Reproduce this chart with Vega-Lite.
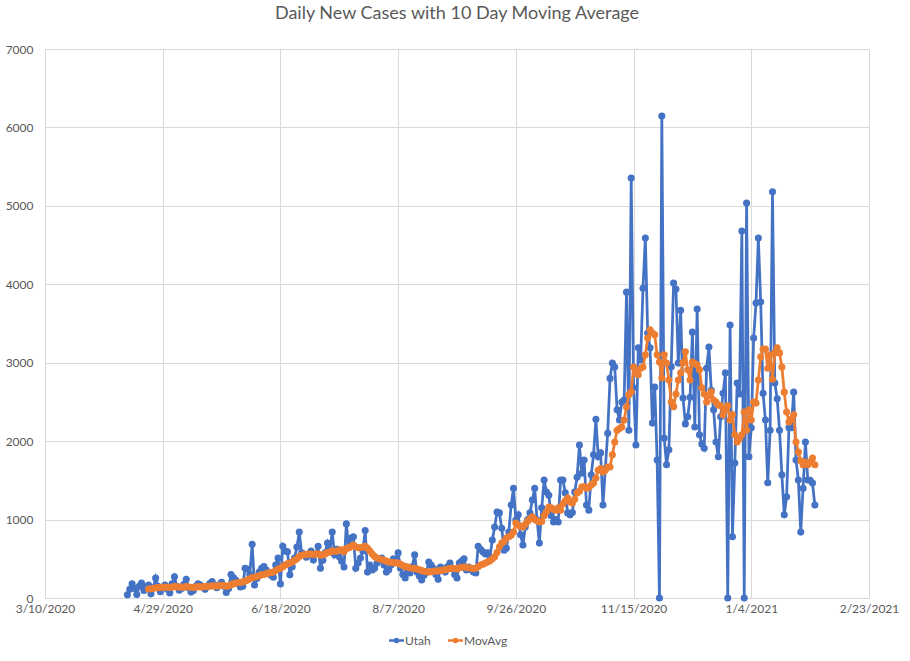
{
"$schema": "https://vega.github.io/schema/vega-lite/v6.json",
"width": 824, "height": 549,
"autosize": {"type": "none"},
"padding": {"left": 45, "top": 49, "right": 41, "bottom": 63},
"background": "white",
"title": {"text": "Daily New Cases with 10 Day Moving Average", "font": "Lato", "fontSize": 18, "fontWeight": "normal", "color": "#595959", "offset": 20, "anchor": "middle"},
"config": {"view": {"stroke": null}},
"data": {"values": [
{"date":"2020-04-14","Utah":40,"MovAvg":null},
{"date":"2020-04-15","Utah":110,"MovAvg":null},
{"date":"2020-04-16","Utah":180,"MovAvg":null},
{"date":"2020-04-17","Utah":120,"MovAvg":null},
{"date":"2020-04-18","Utah":45,"MovAvg":null},
{"date":"2020-04-19","Utah":150,"MovAvg":null},
{"date":"2020-04-20","Utah":190,"MovAvg":null},
{"date":"2020-04-21","Utah":95,"MovAvg":null},
{"date":"2020-04-22","Utah":140,"MovAvg":null},
{"date":"2020-04-23","Utah":165,"MovAvg":115},
{"date":"2020-04-24","Utah":55,"MovAvg":118},
{"date":"2020-04-25","Utah":130,"MovAvg":122},
{"date":"2020-04-26","Utah":255,"MovAvg":130},
{"date":"2020-04-27","Utah":150,"MovAvg":135},
{"date":"2020-04-28","Utah":80,"MovAvg":132},
{"date":"2020-04-29","Utah":140,"MovAvg":138},
{"date":"2020-04-30","Utah":165,"MovAvg":140},
{"date":"2020-05-01","Utah":110,"MovAvg":138},
{"date":"2020-05-02","Utah":65,"MovAvg":135},
{"date":"2020-05-03","Utah":180,"MovAvg":140},
{"date":"2020-05-04","Utah":270,"MovAvg":145},
{"date":"2020-05-05","Utah":150,"MovAvg":142},
{"date":"2020-05-06","Utah":100,"MovAvg":140},
{"date":"2020-05-07","Utah":120,"MovAvg":138},
{"date":"2020-05-08","Utah":175,"MovAvg":140},
{"date":"2020-05-09","Utah":240,"MovAvg":145},
{"date":"2020-05-10","Utah":130,"MovAvg":140},
{"date":"2020-05-11","Utah":75,"MovAvg":138},
{"date":"2020-05-12","Utah":95,"MovAvg":135},
{"date":"2020-05-13","Utah":150,"MovAvg":140},
{"date":"2020-05-14","Utah":180,"MovAvg":145},
{"date":"2020-05-15","Utah":165,"MovAvg":140},
{"date":"2020-05-16","Utah":140,"MovAvg":142},
{"date":"2020-05-17","Utah":110,"MovAvg":145},
{"date":"2020-05-18","Utah":150,"MovAvg":148},
{"date":"2020-05-19","Utah":185,"MovAvg":150},
{"date":"2020-05-20","Utah":210,"MovAvg":155},
{"date":"2020-05-21","Utah":160,"MovAvg":152},
{"date":"2020-05-22","Utah":130,"MovAvg":150},
{"date":"2020-05-23","Utah":170,"MovAvg":158},
{"date":"2020-05-24","Utah":200,"MovAvg":162},
{"date":"2020-05-25","Utah":150,"MovAvg":160},
{"date":"2020-05-26","Utah":70,"MovAvg":150},
{"date":"2020-05-27","Utah":120,"MovAvg":155},
{"date":"2020-05-28","Utah":300,"MovAvg":170},
{"date":"2020-05-29","Utah":260,"MovAvg":180},
{"date":"2020-05-30","Utah":230,"MovAvg":190},
{"date":"2020-05-31","Utah":190,"MovAvg":195},
{"date":"2020-06-01","Utah":140,"MovAvg":200},
{"date":"2020-06-02","Utah":150,"MovAvg":205},
{"date":"2020-06-03","Utah":380,"MovAvg":215},
{"date":"2020-06-04","Utah":370,"MovAvg":230},
{"date":"2020-06-05","Utah":300,"MovAvg":245},
{"date":"2020-06-06","Utah":685,"MovAvg":260},
{"date":"2020-06-07","Utah":165,"MovAvg":265},
{"date":"2020-06-08","Utah":250,"MovAvg":275},
{"date":"2020-06-09","Utah":330,"MovAvg":285},
{"date":"2020-06-10","Utah":380,"MovAvg":295},
{"date":"2020-06-11","Utah":400,"MovAvg":300},
{"date":"2020-06-12","Utah":357,"MovAvg":310},
{"date":"2020-06-13","Utah":320,"MovAvg":320},
{"date":"2020-06-14","Utah":290,"MovAvg":325},
{"date":"2020-06-15","Utah":265,"MovAvg":330},
{"date":"2020-06-16","Utah":420,"MovAvg":350},
{"date":"2020-06-17","Utah":510,"MovAvg":370},
{"date":"2020-06-18","Utah":180,"MovAvg":380},
{"date":"2020-06-19","Utah":660,"MovAvg":400},
{"date":"2020-06-20","Utah":600,"MovAvg":420},
{"date":"2020-06-21","Utah":590,"MovAvg":435},
{"date":"2020-06-22","Utah":295,"MovAvg":445},
{"date":"2020-06-23","Utah":400,"MovAvg":460},
{"date":"2020-06-24","Utah":510,"MovAvg":480},
{"date":"2020-06-25","Utah":650,"MovAvg":500},
{"date":"2020-06-26","Utah":840,"MovAvg":530},
{"date":"2020-06-27","Utah":575,"MovAvg":545},
{"date":"2020-06-28","Utah":560,"MovAvg":550},
{"date":"2020-06-29","Utah":520,"MovAvg":555},
{"date":"2020-06-30","Utah":550,"MovAvg":560},
{"date":"2020-07-01","Utah":600,"MovAvg":560},
{"date":"2020-07-02","Utah":485,"MovAvg":555},
{"date":"2020-07-03","Utah":560,"MovAvg":560},
{"date":"2020-07-04","Utah":660,"MovAvg":565},
{"date":"2020-07-05","Utah":380,"MovAvg":545},
{"date":"2020-07-06","Utah":480,"MovAvg":550},
{"date":"2020-07-07","Utah":575,"MovAvg":560},
{"date":"2020-07-08","Utah":700,"MovAvg":580},
{"date":"2020-07-09","Utah":610,"MovAvg":585},
{"date":"2020-07-10","Utah":840,"MovAvg":600},
{"date":"2020-07-11","Utah":550,"MovAvg":595},
{"date":"2020-07-12","Utah":620,"MovAvg":600},
{"date":"2020-07-13","Utah":525,"MovAvg":610},
{"date":"2020-07-14","Utah":470,"MovAvg":615},
{"date":"2020-07-15","Utah":395,"MovAvg":590},
{"date":"2020-07-16","Utah":945,"MovAvg":630},
{"date":"2020-07-17","Utah":640,"MovAvg":640},
{"date":"2020-07-18","Utah":765,"MovAvg":660},
{"date":"2020-07-19","Utah":780,"MovAvg":675},
{"date":"2020-07-20","Utah":380,"MovAvg":650},
{"date":"2020-07-21","Utah":445,"MovAvg":640},
{"date":"2020-07-22","Utah":510,"MovAvg":645},
{"date":"2020-07-23","Utah":600,"MovAvg":650},
{"date":"2020-07-24","Utah":860,"MovAvg":660},
{"date":"2020-07-25","Utah":330,"MovAvg":635},
{"date":"2020-07-26","Utah":420,"MovAvg":600},
{"date":"2020-07-27","Utah":357,"MovAvg":560},
{"date":"2020-07-28","Utah":380,"MovAvg":530},
{"date":"2020-07-29","Utah":445,"MovAvg":510},
{"date":"2020-07-30","Utah":480,"MovAvg":500},
{"date":"2020-07-31","Utah":510,"MovAvg":490},
{"date":"2020-08-01","Utah":420,"MovAvg":480},
{"date":"2020-08-02","Utah":330,"MovAvg":470},
{"date":"2020-08-03","Utah":360,"MovAvg":460},
{"date":"2020-08-04","Utah":420,"MovAvg":455},
{"date":"2020-08-05","Utah":500,"MovAvg":450},
{"date":"2020-08-06","Utah":450,"MovAvg":448},
{"date":"2020-08-07","Utah":575,"MovAvg":445},
{"date":"2020-08-08","Utah":380,"MovAvg":430},
{"date":"2020-08-09","Utah":300,"MovAvg":415},
{"date":"2020-08-10","Utah":255,"MovAvg":400},
{"date":"2020-08-11","Utah":357,"MovAvg":395},
{"date":"2020-08-12","Utah":320,"MovAvg":385},
{"date":"2020-08-13","Utah":400,"MovAvg":380},
{"date":"2020-08-14","Utah":550,"MovAvg":378},
{"date":"2020-08-15","Utah":330,"MovAvg":370},
{"date":"2020-08-16","Utah":280,"MovAvg":360},
{"date":"2020-08-17","Utah":230,"MovAvg":350},
{"date":"2020-08-18","Utah":290,"MovAvg":340},
{"date":"2020-08-19","Utah":330,"MovAvg":335},
{"date":"2020-08-20","Utah":460,"MovAvg":330},
{"date":"2020-08-21","Utah":420,"MovAvg":335},
{"date":"2020-08-22","Utah":380,"MovAvg":340},
{"date":"2020-08-23","Utah":300,"MovAvg":345},
{"date":"2020-08-24","Utah":240,"MovAvg":345},
{"date":"2020-08-25","Utah":395,"MovAvg":350},
{"date":"2020-08-26","Utah":370,"MovAvg":355},
{"date":"2020-08-27","Utah":330,"MovAvg":360},
{"date":"2020-08-28","Utah":400,"MovAvg":370},
{"date":"2020-08-29","Utah":445,"MovAvg":375},
{"date":"2020-08-30","Utah":380,"MovAvg":380},
{"date":"2020-08-31","Utah":300,"MovAvg":375},
{"date":"2020-09-01","Utah":255,"MovAvg":370},
{"date":"2020-09-02","Utah":445,"MovAvg":385},
{"date":"2020-09-03","Utah":470,"MovAvg":390},
{"date":"2020-09-04","Utah":500,"MovAvg":395},
{"date":"2020-09-05","Utah":357,"MovAvg":390},
{"date":"2020-09-06","Utah":395,"MovAvg":385},
{"date":"2020-09-07","Utah":360,"MovAvg":380},
{"date":"2020-09-08","Utah":330,"MovAvg":375},
{"date":"2020-09-09","Utah":320,"MovAvg":380},
{"date":"2020-09-10","Utah":660,"MovAvg":400},
{"date":"2020-09-11","Utah":620,"MovAvg":420},
{"date":"2020-09-12","Utah":590,"MovAvg":430},
{"date":"2020-09-13","Utah":560,"MovAvg":445},
{"date":"2020-09-14","Utah":575,"MovAvg":460},
{"date":"2020-09-15","Utah":525,"MovAvg":475},
{"date":"2020-09-16","Utah":740,"MovAvg":500},
{"date":"2020-09-17","Utah":905,"MovAvg":525},
{"date":"2020-09-18","Utah":1095,"MovAvg":580},
{"date":"2020-09-19","Utah":1085,"MovAvg":650},
{"date":"2020-09-20","Utah":890,"MovAvg":700},
{"date":"2020-09-21","Utah":610,"MovAvg":720},
{"date":"2020-09-22","Utah":635,"MovAvg":765},
{"date":"2020-09-23","Utah":840,"MovAvg":780},
{"date":"2020-09-24","Utah":1185,"MovAvg":800},
{"date":"2020-09-25","Utah":1400,"MovAvg":840},
{"date":"2020-09-26","Utah":995,"MovAvg":955},
{"date":"2020-09-27","Utah":1060,"MovAvg":930},
{"date":"2020-09-28","Utah":805,"MovAvg":910},
{"date":"2020-09-29","Utah":675,"MovAvg":905},
{"date":"2020-09-30","Utah":905,"MovAvg":940},
{"date":"2020-10-01","Utah":1000,"MovAvg":980},
{"date":"2020-10-02","Utah":1085,"MovAvg":1010},
{"date":"2020-10-03","Utah":1250,"MovAvg":1035},
{"date":"2020-10-04","Utah":1400,"MovAvg":1000},
{"date":"2020-10-05","Utah":995,"MovAvg":985},
{"date":"2020-10-06","Utah":700,"MovAvg":970},
{"date":"2020-10-07","Utah":1150,"MovAvg":975},
{"date":"2020-10-08","Utah":1505,"MovAvg":1050},
{"date":"2020-10-09","Utah":1350,"MovAvg":1100},
{"date":"2020-10-10","Utah":1310,"MovAvg":1160},
{"date":"2020-10-11","Utah":1050,"MovAvg":1150},
{"date":"2020-10-12","Utah":970,"MovAvg":1130},
{"date":"2020-10-13","Utah":1000,"MovAvg":1120},
{"date":"2020-10-14","Utah":970,"MovAvg":1150},
{"date":"2020-10-15","Utah":1505,"MovAvg":1120},
{"date":"2020-10-16","Utah":1505,"MovAvg":1200},
{"date":"2020-10-17","Utah":1340,"MovAvg":1240},
{"date":"2020-10-18","Utah":1085,"MovAvg":1275},
{"date":"2020-10-19","Utah":1060,"MovAvg":1225},
{"date":"2020-10-20","Utah":1090,"MovAvg":1210},
{"date":"2020-10-21","Utah":1350,"MovAvg":1260},
{"date":"2020-10-22","Utah":1540,"MovAvg":1340},
{"date":"2020-10-23","Utah":1950,"MovAvg":1360},
{"date":"2020-10-24","Utah":1590,"MovAvg":1415},
{"date":"2020-10-25","Utah":1760,"MovAvg":1420},
{"date":"2020-10-26","Utah":1185,"MovAvg":1400},
{"date":"2020-10-27","Utah":1120,"MovAvg":1410},
{"date":"2020-10-28","Utah":1570,"MovAvg":1440},
{"date":"2020-10-29","Utah":1825,"MovAvg":1465},
{"date":"2020-10-30","Utah":2280,"MovAvg":1530},
{"date":"2020-10-31","Utah":1800,"MovAvg":1630},
{"date":"2020-11-01","Utah":1850,"MovAvg":1650},
{"date":"2020-11-02","Utah":1185,"MovAvg":1605},
{"date":"2020-11-03","Utah":1650,"MovAvg":1630},
{"date":"2020-11-04","Utah":2100,"MovAvg":1670},
{"date":"2020-11-05","Utah":2800,"MovAvg":1670},
{"date":"2020-11-06","Utah":2995,"MovAvg":1825},
{"date":"2020-11-07","Utah":2945,"MovAvg":1990},
{"date":"2020-11-08","Utah":2400,"MovAvg":2140},
{"date":"2020-11-09","Utah":2270,"MovAvg":2160},
{"date":"2020-11-10","Utah":2500,"MovAvg":2180},
{"date":"2020-11-11","Utah":2525,"MovAvg":2270},
{"date":"2020-11-12","Utah":3900,"MovAvg":2435},
{"date":"2020-11-13","Utah":2140,"MovAvg":2590},
{"date":"2020-11-14","Utah":5355,"MovAvg":2630},
{"date":"2020-11-15","Utah":2680,"MovAvg":2945},
{"date":"2020-11-16","Utah":1950,"MovAvg":2870},
{"date":"2020-11-17","Utah":3190,"MovAvg":2845},
{"date":"2020-11-18","Utah":3035,"MovAvg":2930},
{"date":"2020-11-19","Utah":3950,"MovAvg":2945},
{"date":"2020-11-20","Utah":4590,"MovAvg":3100},
{"date":"2020-11-21","Utah":3380,"MovAvg":3315},
{"date":"2020-11-22","Utah":3190,"MovAvg":3420},
{"date":"2020-11-23","Utah":2230,"MovAvg":3380},
{"date":"2020-11-24","Utah":2690,"MovAvg":3355},
{"date":"2020-11-25","Utah":1760,"MovAvg":3100},
{"date":"2020-11-26","Utah":0,"MovAvg":3010},
{"date":"2020-11-27","Utah":6145,"MovAvg":2805},
{"date":"2020-11-28","Utah":2040,"MovAvg":3100},
{"date":"2020-11-29","Utah":1700,"MovAvg":2995},
{"date":"2020-11-30","Utah":1890,"MovAvg":2780},
{"date":"2020-12-01","Utah":2950,"MovAvg":2500},
{"date":"2020-12-02","Utah":4015,"MovAvg":2440},
{"date":"2020-12-03","Utah":3940,"MovAvg":2600},
{"date":"2020-12-04","Utah":2995,"MovAvg":2780},
{"date":"2020-12-05","Utah":3670,"MovAvg":2870},
{"date":"2020-12-06","Utah":2550,"MovAvg":3000},
{"date":"2020-12-07","Utah":2220,"MovAvg":3140},
{"date":"2020-12-08","Utah":2310,"MovAvg":2910},
{"date":"2020-12-09","Utah":2560,"MovAvg":2780},
{"date":"2020-12-10","Utah":3390,"MovAvg":3010},
{"date":"2020-12-11","Utah":2180,"MovAvg":2990},
{"date":"2020-12-12","Utah":3685,"MovAvg":2970},
{"date":"2020-12-13","Utah":2080,"MovAvg":2910},
{"date":"2020-12-14","Utah":1965,"MovAvg":2680},
{"date":"2020-12-15","Utah":1910,"MovAvg":2600},
{"date":"2020-12-16","Utah":2930,"MovAvg":2500},
{"date":"2020-12-17","Utah":3200,"MovAvg":2580},
{"date":"2020-12-18","Utah":2650,"MovAvg":2630},
{"date":"2020-12-19","Utah":2400,"MovAvg":2525},
{"date":"2020-12-20","Utah":1990,"MovAvg":2500},
{"date":"2020-12-21","Utah":1800,"MovAvg":2460},
{"date":"2020-12-22","Utah":2310,"MovAvg":2450},
{"date":"2020-12-23","Utah":2610,"MovAvg":2335},
{"date":"2020-12-24","Utah":2870,"MovAvg":2400},
{"date":"2020-12-25","Utah":0,"MovAvg":2450},
{"date":"2020-12-26","Utah":3480,"MovAvg":2270},
{"date":"2020-12-27","Utah":780,"MovAvg":2335},
{"date":"2020-12-28","Utah":1720,"MovAvg":2080},
{"date":"2020-12-29","Utah":2740,"MovAvg":1990},
{"date":"2020-12-30","Utah":2600,"MovAvg":2030},
{"date":"2020-12-31","Utah":4680,"MovAvg":2080},
{"date":"2021-01-01","Utah":0,"MovAvg":2370},
{"date":"2021-01-02","Utah":5035,"MovAvg":2140},
{"date":"2021-01-03","Utah":1800,"MovAvg":2400},
{"date":"2021-01-04","Utah":2170,"MovAvg":2270},
{"date":"2021-01-05","Utah":3315,"MovAvg":2500},
{"date":"2021-01-06","Utah":3760,"MovAvg":2485},
{"date":"2021-01-07","Utah":4590,"MovAvg":2780},
{"date":"2021-01-08","Utah":3775,"MovAvg":3075},
{"date":"2021-01-09","Utah":2610,"MovAvg":3175},
{"date":"2021-01-10","Utah":2270,"MovAvg":3175},
{"date":"2021-01-11","Utah":1470,"MovAvg":2930},
{"date":"2021-01-12","Utah":2140,"MovAvg":3100},
{"date":"2021-01-13","Utah":5180,"MovAvg":2790},
{"date":"2021-01-14","Utah":2740,"MovAvg":3125},
{"date":"2021-01-15","Utah":2540,"MovAvg":3190},
{"date":"2021-01-16","Utah":2140,"MovAvg":3125},
{"date":"2021-01-17","Utah":1570,"MovAvg":2945},
{"date":"2021-01-18","Utah":1060,"MovAvg":2625},
{"date":"2021-01-19","Utah":1290,"MovAvg":2370},
{"date":"2021-01-20","Utah":2170,"MovAvg":2245},
{"date":"2021-01-21","Utah":2170,"MovAvg":2280},
{"date":"2021-01-22","Utah":2625,"MovAvg":2335},
{"date":"2021-01-23","Utah":1760,"MovAvg":1990},
{"date":"2021-01-24","Utah":1505,"MovAvg":1860},
{"date":"2021-01-25","Utah":840,"MovAvg":1750},
{"date":"2021-01-26","Utah":1400,"MovAvg":1700},
{"date":"2021-01-27","Utah":1990,"MovAvg":1735},
{"date":"2021-01-28","Utah":1505,"MovAvg":1700},
{"date":"2021-01-29","Utah":1500,"MovAvg":1735},
{"date":"2021-01-30","Utah":1465,"MovAvg":1785},
{"date":"2021-01-31","Utah":1185,"MovAvg":1700}
]},
"layer": [
  {"mark": {"type": "line", "strokeWidth": 2.75, "point": {"filled": true, "size": 50}},
   "encoding": {
     "x": {"field": "date", "type": "temporal",
        "scale": {"type": "utc", "domain": [1583798400000, 1614038400000]},
        "axis": {"title": null, "values": [1583798400000, 1588118400000, 1592438400000, 1596758400000, 1601078400000, 1605398400000, 1609718400000, 1614038400000],
                 "format": "%-m/%-d/%Y", "labelFont": "Lato", "labelFontSize": 12, "labelColor": "#595959",
                 "grid": true, "gridColor": "#D9D9D9", "gridWidth": 1, "domainColor": "#D9D9D9", "domainWidth": 1,
                 "ticks": false, "tickSize": 0, "labelPadding": 5, "labelFlush": false, "labelOverlap": false}},
     "y": {"field": "Utah", "type": "quantitative", "scale": {"domain": [0, 7000]},
           "axis": {"title": null, "values": [0,1000,2000,3000,4000,5000,6000,7000], "format": "d", "labelFont": "Lato", "labelFontSize": 12, "labelColor": "#595959",
                    "grid": true, "gridColor": "#D9D9D9", "domain": false, "ticks": false, "tickSize": 0, "labelPadding": 12}},
     "color": {"datum": "Utah", "type": "nominal",
               "scale": {"domain": ["Utah", "MovAvg"], "range": ["#4472C4", "#ED7D31"]},
               "legend": {"title": null, "orient": "none", "direction": "horizontal", "legendX": 345, "legendY": 585,
                          "labelFont": "Lato", "labelFontSize": 12, "labelColor": "#595959",
                          "symbolType": "M-1.5,0L1.5,0M0.3,0A0.3,0.3,0,1,1,-0.3,0A0.3,0.3,0,1,1,0.3,0Z",
                          "symbolSize": 100, "symbolStrokeWidth": 2.5, "labelOffset": 2, "columnPadding": 12,
                          "encode": {"symbols": {"update": {"stroke": {"scale": "color", "field": "value"}, "fill": {"scale": "color", "field": "value"}}}}}}
   }},
  {"mark": {"type": "line", "strokeWidth": 2.75, "point": {"filled": true, "size": 50}},
   "encoding": {
     "x": {"field": "date", "type": "temporal"},
     "y": {"field": "MovAvg", "type": "quantitative"},
     "color": {"datum": "MovAvg", "type": "nominal"}
   }}
]
}
